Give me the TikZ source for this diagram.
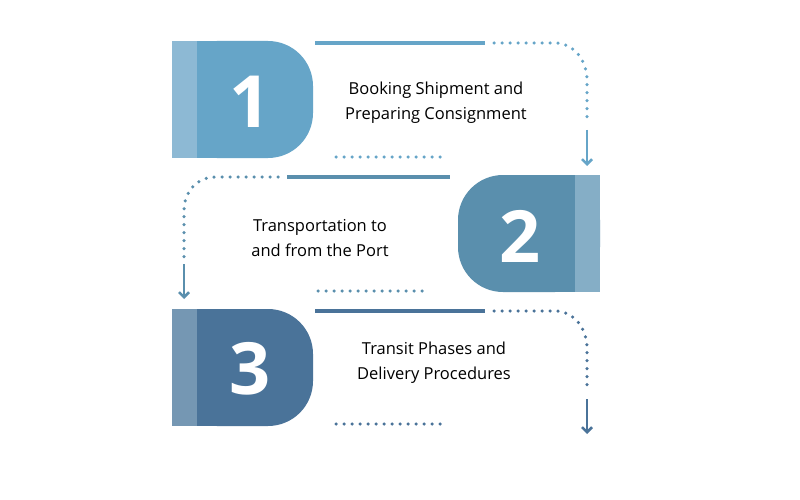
\documentclass[tikz,border=0pt]{standalone}
\usepackage{fontspec}
\setmainfont{Open Sans}
\usetikzlibrary{arrows.meta}
\definecolor{ca}{HTML}{66A5C8}\definecolor{cas}{HTML}{8DB9D4}
\definecolor{cb}{HTML}{5A8FAD}\definecolor{cbs}{HTML}{85AEC6}
\definecolor{cc}{HTML}{4A7399}\definecolor{ccs}{HTML}{7597B3}
\begin{document}
\begin{tikzpicture}[x=1pt,y=-1pt,
  solidln/.style={line width=3.5pt},
  dotln/.style={line width=3.5pt,line cap=round,dash pattern=on 0pt off 8pt},
  arr/.style={line width=2.5pt,-{Straight Barb[length=5pt,width=10pt]}},
  num/.style={text=white,font=\fontsize{72}{72}\selectfont\bfseries},
  lbl/.style={font=\fontsize{16.5}{25}\selectfont,align=center}]
\useasboundingbox[fill=white] (0,0) rectangle (800,500);
% box 1
\fill[ca,rounded corners=45pt] (172,158) -- (172,41) -- (313,41) -- (313,158) -- cycle;
\fill[ca] (172,41) rectangle (250,158);
\fill[cas] (172,41) rectangle (197,158);
\node[num] (n1) at (250,102) {1};
\node[lbl] (t1) at (436,103) {Booking Shipment and\\Preparing Consignment};
% box 2
\fill[cb,rounded corners=45pt] (600,175) -- (458,175) -- (458,292) -- (600,292) -- cycle;
\fill[cb] (520,175) rectangle (600,292);
\fill[cbs] (575,175) rectangle (600,292);
\node[num] (n2) at (520,236) {2};
\node[lbl] (t2) at (320,238) {Transportation to\\and from the Port};
% box 3
\fill[cc,rounded corners=45pt] (172,426) -- (172,309) -- (313,309) -- (313,426) -- cycle;
\fill[cc] (172,309) rectangle (250,426);
\fill[ccs] (172,309) rectangle (197,426);
\node[num] (n3) at (250,369) {3};
\node[lbl] (t3) at (434,363) {Transit Phases and\\Delivery Procedures};
% connectors row 1
\draw[ca,solidln] (315,43) -- (485,43);
\draw[ca,dotln] (494,43) -- (555,43) to[out=0,in=90] (587,80) -- (587,122);
\draw[ca,arr] (587,130) -- (587,166);
\draw[ca,dotln] (336,157) -- (446,157);
% row 2
\draw[cb,solidln] (287,177) -- (450,177);
\draw[cb,dotln] (278,177) -- (215,177) to[out=180,in=90] (184,210) -- (184,258);
\draw[cb,arr] (184,264) -- (184,299);
\draw[cb,dotln] (318,291) -- (428,291);
% row 3
\draw[cc,solidln] (315,311) -- (485,311);
\draw[cc,dotln] (494,311) -- (555,311) to[out=0,in=90] (587,348) -- (587,392);
\draw[cc,arr] (587,399) -- (587,434);
\draw[cc,dotln] (336,424) -- (446,424);
\end{tikzpicture}
\end{document}
